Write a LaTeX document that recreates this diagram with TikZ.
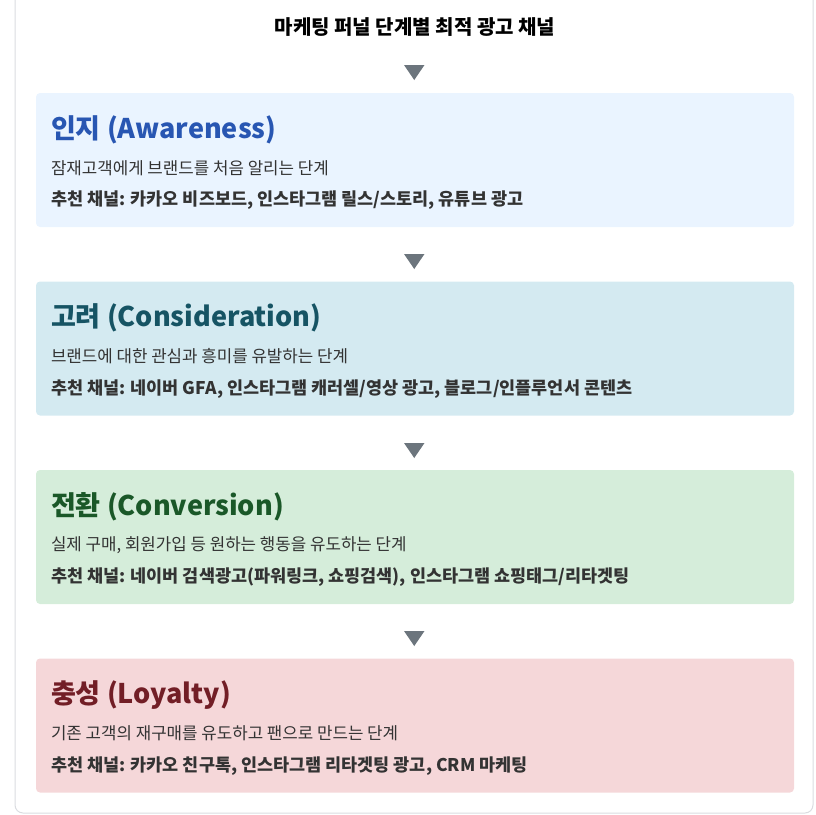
\documentclass[tikz,border=0pt]{standalone}
\usepackage{fontspec}
\setmainfont{Noto Sans CJK KR}
\usetikzlibrary{positioning,calc}

\definecolor{framegray}{RGB}{218,220,224}
\definecolor{arrowgray}{RGB}{108,117,125}
\definecolor{bodytext}{RGB}{51,51,51}
\definecolor{awarefill}{RGB}{234,244,255}
\definecolor{awaretext}{RGB}{40,86,178}
\definecolor{considfill}{RGB}{212,234,241}
\definecolor{considtext}{RGB}{22,84,100}
\definecolor{convfill}{RGB}{213,237,218}
\definecolor{convtext}{RGB}{26,88,40}
\definecolor{loyalfill}{RGB}{245,215,217}
\definecolor{loyaltext}{RGB}{114,30,38}

\begin{document}
\begin{tikzpicture}[x=0.75pt,y=0.75pt,yscale=-1,xscale=1,
  stagebox/.style={rectangle,rounded corners=3pt,inner sep=0pt,minimum width=568.5pt,minimum height=100.5pt},
  headtext/.style={anchor=west,inner sep=0pt,font=\bfseries\fontsize{20.3}{23}\selectfont},
  desctext/.style={anchor=west,inner sep=0pt,text=bodytext,font=\fontsize{12.6}{14}\selectfont},
  chantext/.style={anchor=west,inner sep=0pt,text=bodytext,font=\bfseries\fontsize{13.1}{15}\selectfont},
  downmark/.style={fill=arrowgray}]
\useasboundingbox (0,0) rectangle (815,815);

% Frame
\draw [framegray,line width=0.75pt,rounded corners=6pt] (15,-20) rectangle (813,813);

% Title
\node [inner sep=0pt,font=\bfseries\fontsize{15}{17}\selectfont] (title) at (415,27) {마케팅 퍼널 단계별 최적 광고 채널};

% Stage boxes
\node [stagebox,fill=awarefill]  (aware)  at (415,160) {};
\node [stagebox,fill=considfill] (consid) at (415,348.5) {};
\node [stagebox,fill=convfill]   (conv)   at (415,537) {};
\node [stagebox,fill=loyalfill]  (loyal)  at (415,725.5) {};

% Down markers
\foreach \ty in {65,254,443,631}
  \fill [downmark] (404,\ty) -- (424.5,\ty) -- (414.25,\ty+15) -- cycle;

% Text Node
\node [headtext,text=awaretext] (awarehead) at ($(aware.north west)+(15,37)$) {인지 (Awareness)};
\node [desctext] (awaredesc) at ($(aware.north west)+(15,75)$) {잠재고객에게 브랜드를 처음 알리는 단계};
\node [chantext] (awarechan) at ($(aware.north west)+(15,107.5)$) {추천 채널: 카카오 비즈보드, 인스타그램 릴스/스토리, 유튜브 광고};
% Text Node
\node [headtext,text=considtext] (considhead) at ($(consid.north west)+(15,37)$) {고려 (Consideration)};
\node [desctext] (considdesc) at ($(consid.north west)+(15,75)$) {브랜드에 대한 관심과 흥미를 유발하는 단계};
\node [chantext] (considchan) at ($(consid.north west)+(15,107.5)$) {추천 채널: 네이버 GFA, 인스타그램 캐러셀/영상 광고, 블로그/인플루언서 콘텐츠};
% Text Node
\node [headtext,text=convtext] (convhead) at ($(conv.north west)+(15,37)$) {전환 (Conversion)};
\node [desctext] (convdesc) at ($(conv.north west)+(15,75)$) {실제 구매, 회원가입 등 원하는 행동을 유도하는 단계};
\node [chantext] (convchan) at ($(conv.north west)+(15,107.5)$) {추천 채널: 네이버 검색광고(파워링크, 쇼핑검색), 인스타그램 쇼핑태그/리타겟팅};
% Text Node
\node [headtext,text=loyaltext] (loyalhead) at ($(loyal.north west)+(15,37)$) {충성 (Loyalty)};
\node [desctext] (loyaldesc) at ($(loyal.north west)+(15,75)$) {기존 고객의 재구매를 유도하고 팬으로 만드는 단계};
\node [chantext] (loyalchan) at ($(loyal.north west)+(15,107.5)$) {추천 채널: 카카오 친구톡, 인스타그램 리타겟팅 광고, CRM 마케팅};

\end{tikzpicture}
\end{document}
